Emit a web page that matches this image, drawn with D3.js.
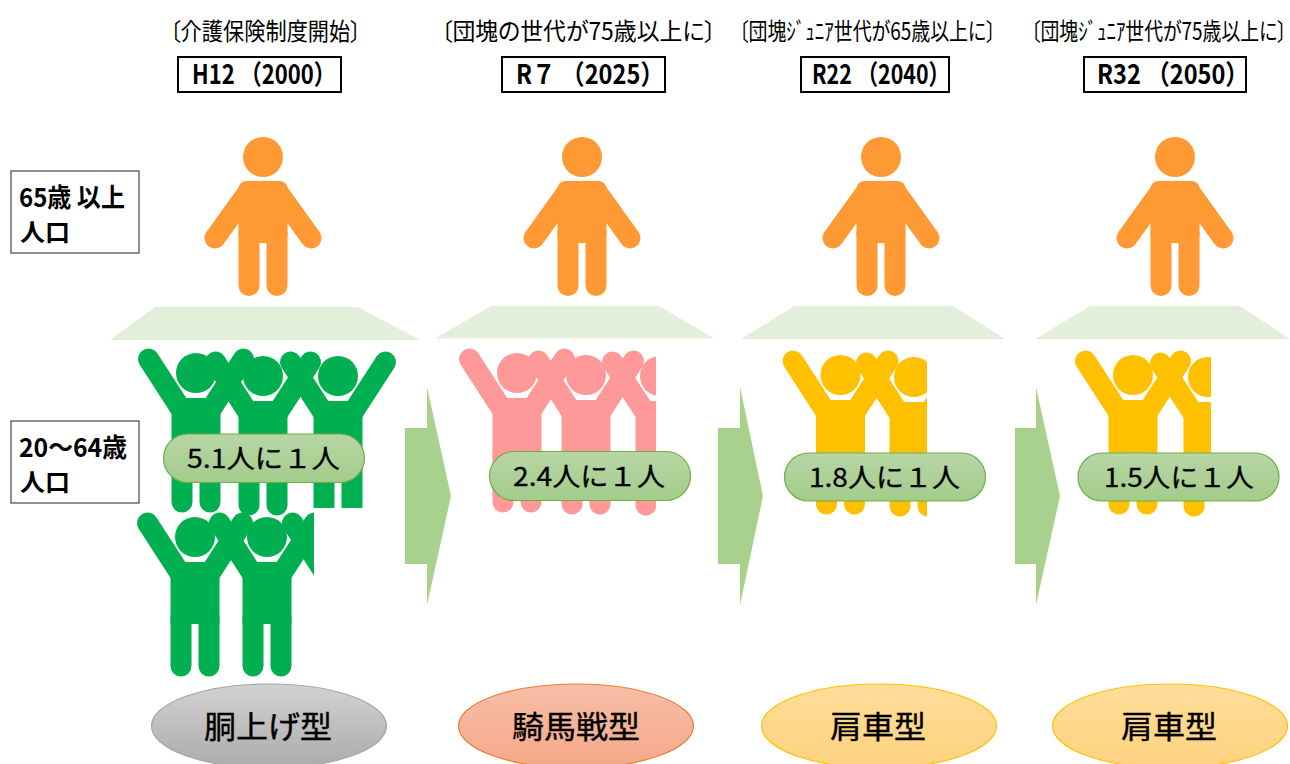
<!DOCTYPE html>
<html lang="ja">
<head>
<meta charset="utf-8">
<style>
  html, body { margin: 0; background: #fff; }
  text { font-family: "Noto Sans CJK JP", sans-serif; fill: #000; }
</style>
<script src="https://cdn.jsdelivr.net/npm/d3@7"></script>
</head>
<body>
<svg id="chart" width="1290" height="764"></svg>
<script>
// values
const periods = ["H12 （2000）", "R７ （2025）", "R22 （2040）", "R32 （2050）"];
const events = ["〔介護保険制度開始〕", "〔団塊の世代が75歳以上に〕", "〔団塊ｼﾞｭﾆｱ世代が65歳以上に〕", "〔団塊ｼﾞｭﾆｱ世代が75歳以上に〕"];
const workersPerElder = [5.1, 2.4, 1.8, 1.5];
const ratioLabels = ["5.1人に１人", "2.4人に１人", "1.8人に１人", "1.5人に１人"];
const shapeLabels = ["胴上げ型", "騎馬戦型", "肩車型", "肩車型"];
const rowLabels = [["65歳 以上", "人口"], ["20～64歳", "人口"]];

// layout, one entry per period
const workerColors = ["#00B050", "#FF9999", "#FFC000", "#FFC000"];
const eventSpans = [[170, 361], [441, 716], [739, 996], [1031, 1287]];
const headerSpans = [[178, 341], [502, 665], [801, 949], [1084, 1246]];
const headerTextSpans = [[192, 336], [516, 664], [812, 950], [1097, 1249]];
const elderX = [263, 582, 881, 1175];
const trapezoids = [[110, 155, 358, 420], [435, 491, 659, 714], [741, 794, 953, 1005], [1035, 1090, 1240, 1290]];
const trapezoidY = [[307, 340], [306, 338.5], [306, 339], [306, 339]];
const pills = [[163.5, 364.5, 434, 482.5], [489.5, 690.5, 451.5, 500.5], [784.5, 985.5, 453, 501], [1078, 1279, 453, 501]];
const pillTextSpans = [[187, 340], [513, 665], [809, 960], [1104, 1254]];
const ovalX = [269, 576, 879, 1170];
const ovalFills = ["url(#ovalGray)", "url(#ovalOrange)", "url(#ovalYellow)", "url(#ovalYellow)"];
const ovalStrokes = ["#A5A5A5", "#ED7D31", "#FFC000", "#FFC000"];
const ovalTextSpans = [[204, 332], [512, 640], [830, 926], [1121, 1217]];
const arrowX = [[405, 427, 451], [718, 740, 763], [1015, 1036, 1060]];

// rows of raised-arm figures; "xs" are the head centres, cut by the clip edges
const workerRows = [
  [
    { from: 0, xs: [196, 263], ys: [373, 376], right: 420, bottom: 530 },
    { from: 2, xs: [338], ys: [376], right: 420, bottom: 508 },
    { from: 3, xs: [195, 267, 340], ys: [537, 537, 537], right: 314, bottom: 690 }
  ],
  [{ from: 0, xs: [517, 586, 660], ys: [373, 375, 376], right: 656, bottom: 530 }],
  [{ from: 0, xs: [840.5, 914], ys: [375, 377], right: 927, bottom: 530 }],
  [{ from: 0, xs: [1133, 1208], ys: [375, 377], right: 1211, bottom: 530 }]
];

const svg = d3.select("#chart");
const defs = svg.append("defs");

const addGradient = (id, top, bottom) => {
  const g = defs.append("linearGradient").attr("id", id).attr("x1", 0).attr("y1", 0).attr("x2", 0).attr("y2", 1);
  g.append("stop").attr("offset", "0%").attr("stop-color", top);
  g.append("stop").attr("offset", "100%").attr("stop-color", bottom);
};
addGradient("pillGreen", "#B7D6A6", "#A3CC8A");
addGradient("ovalGray", "#D2D2D2", "#ABABAB");
addGradient("ovalOrange", "#F8BEA8", "#F4A888");
addGradient("ovalYellow", "#FFDD9A", "#FFD27F");

const line = d3.line();

// the original type is narrower than any installed face, so squeeze sideways to the span
const fittedText = (parent, str, span, y, size, opts = {}) => {
  const t = parent.append("text")
    .attr("font-size", size)
    .attr("font-weight", opts.weight || 400)
    .style("font-feature-settings", opts.palt ? '"palt"' : null)
    .style("stroke", opts.stroke ? "#000" : null)
    .style("stroke-width", opts.stroke || null)
    .text(str);
  const natural = t.node().getComputedTextLength();
  t.attr("transform", `translate(${span[0]},${y}) scale(${(span[1] - span[0]) / natural},1)`);
  return t;
};

// standing figure, origin at the centre of the head
const drawElder = (g, color) => {
  g.append("circle").attr("r", 20).attr("fill", color);
  g.append("rect").attr("x", -24.5).attr("y", 24).attr("width", 49).attr("height", 62).attr("rx", 8).attr("fill", color);
  [-1, 1].forEach(side => {
    g.append("path")
      .attr("d", line([[side * 48, 81], [side * 15, 35]]))
      .attr("stroke", color).attr("stroke-width", 21).attr("stroke-linecap", "round").attr("fill", "none");
    g.append("path")
      .attr("d", line([[side * 14, 75], [side * 14, 128.5]]))
      .attr("stroke", color).attr("stroke-width", 21).attr("stroke-linecap", "round").attr("fill", "none");
  });
};

// figure with both arms up, origin at the centre of the head
const drawWorker = (g, color) => {
  g.append("circle").attr("r", 20).attr("fill", color);
  g.append("path")
    .attr("d", line([[-11, 25], [11, 25], [24.5, 39], [24.5, 87], [-24.5, 87], [-24.5, 39]]) + "Z")
    .attr("fill", color);
  [-1, 1].forEach(side => {
    g.append("path")
      .attr("d", line([[side * 47.5, -14], [side * 14.5, 37]]))
      .attr("stroke", color).attr("stroke-width", 21).attr("stroke-linecap", "round").attr("fill", "none");
    g.append("path")
      .attr("d", line([[side * 14, 80], [side * 14, 129]]))
      .attr("stroke", color).attr("stroke-width", 21).attr("stroke-linecap", "round").attr("fill", "none");
  });
};

// trapezoids under the elder
periods.forEach((p, i) => {
  const [a, b, c, d] = trapezoids[i];
  const [top, bottom] = trapezoidY[i];
  svg.append("path").attr("d", line([[a, bottom], [b, top], [c, top], [d, bottom]]) + "Z").attr("fill", "#E2EFDA");
});

// one elder per period
const elderScale = d3.scaleOrdinal().domain(periods).range(elderX);
periods.forEach(p => {
  drawElder(svg.append("g").attr("transform", `translate(${elderScale(p)},157)`), "#FF9933");
});

// working-age figures: as many as the ratio rounded up, the last cut by the clip
workersPerElder.forEach((value, i) => {
  const total = Math.ceil(value);
  workerRows[i].forEach((row, r) => {
    const clipId = `clip${i}-${r}`;
    defs.append("clipPath").attr("id", clipId)
      .append("rect").attr("x", 0).attr("y", 0).attr("width", row.right).attr("height", row.bottom);
    const domain = d3.range(row.xs.length);
    const xScale = d3.scaleOrdinal().domain(domain).range(row.xs);
    const yScale = d3.scaleOrdinal().domain(domain).range(row.ys);
    const group = svg.append("g").attr("clip-path", `url(#${clipId})`);
    domain.filter(k => row.from + k < total).forEach(k => {
      drawWorker(group.append("g").attr("transform", `translate(${xScale(k)},${yScale(k)})`), workerColors[i]);
    });
  });
});

// arrows
arrowX.forEach(([left, neck, tip]) => {
  svg.append("path")
    .attr("d", line([[left, 428], [neck, 428], [neck, 387], [tip, 496], [neck, 605], [neck, 564], [left, 564]]) + "Z")
    .attr("fill", "#A9D18E");
});

// ratio pills
ratioLabels.forEach((label, i) => {
  const [l, r, t, b] = pills[i];
  svg.append("rect")
    .attr("x", l).attr("y", t).attr("width", r - l).attr("height", b - t)
    .attr("rx", (b - t) / 2)
    .attr("fill", "url(#pillGreen)").attr("stroke", "#70AD47").attr("stroke-width", 1.2);
  fittedText(svg, label, pillTextSpans[i], (t + b) / 2 + 9.5, 26, { stroke: 0.3 });
});

// event captions and period boxes
periods.forEach((p, i) => {
  fittedText(svg, events[i], eventSpans[i], 40, 24, { palt: true });
  const [l, r] = headerSpans[i];
  svg.append("rect").attr("x", l).attr("y", 57).attr("width", r - l).attr("height", 35)
    .attr("fill", "#fff").attr("stroke", "#000").attr("stroke-width", 2);
  fittedText(svg, p, headerTextSpans[i], 84, 27, { weight: 700 });
});

// row labels on the left
rowLabels.forEach((rows, i) => {
  const top = [171, 421][i];
  svg.append("rect").attr("x", 11).attr("y", top).attr("width", 128).attr("height", 82)
    .attr("fill", "#fff").attr("stroke", "#444").attr("stroke-width", 1.2);
  fittedText(svg, rows[0], [19, i ? 127 : 125], top + 36, 26, { weight: 700 });
  fittedText(svg, rows[1], [20, 70], top + 70, 24, { weight: 700 });
});

// ovals at the bottom
shapeLabels.forEach((label, i) => {
  svg.append("ellipse")
    .attr("cx", ovalX[i]).attr("cy", 726).attr("rx", 117.5).attr("ry", 42)
    .attr("fill", ovalFills[i]).attr("stroke", ovalStrokes[i]).attr("stroke-width", 1.2);
  fittedText(svg, label, ovalTextSpans[i], 738, 31, { stroke: 0.4 });
});
</script>
</body>
</html>
